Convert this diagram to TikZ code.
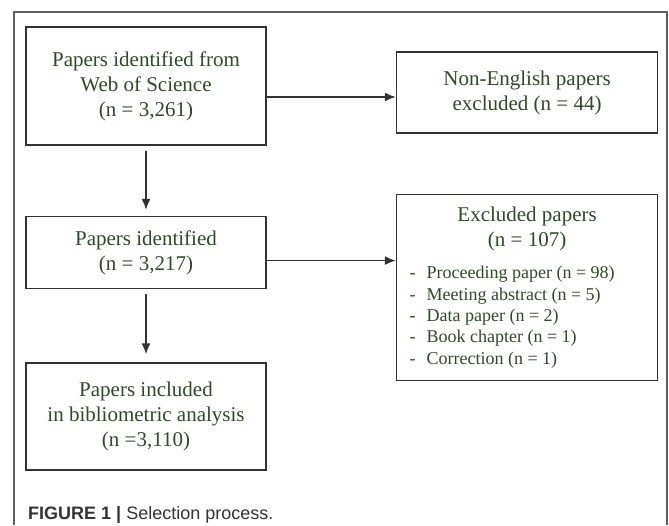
\documentclass[tikz,border=0pt]{standalone}
\usepackage{fontspec}
\setmainfont{Liberation Serif}
\setsansfont{Liberation Sans}
\usetikzlibrary{arrows.meta,positioning}

\definecolor{boxtext}{RGB}{46,74,38}
\definecolor{boxline}{RGB}{50,50,50}
\definecolor{frameline}{RGB}{95,95,95}

\newcommand{\exitem}{\makebox[17pt][l]{-}}

\begin{document}
\begin{tikzpicture}[
    x=1pt, y=1pt,
    node distance=70pt and 129pt,
    >={Latex[length=11pt,width=9pt]},
    box/.style={
        draw=boxline,
        line width=1.6pt,
        rectangle,
        align=center,
        text=boxtext,
        font=\fontsize{21}{25}\selectfont,
        minimum width=240pt,
        inner sep=0pt
    },
    sidebox/.style={
        box,
        minimum width=261pt
    },
    link/.style={
        ->,
        draw=boxline,
        line width=1.5pt
    }
]

\useasboundingbox (0,0) rectangle (669,-525);
\draw[frameline, line width=1.2pt] (14,-525) -- (14,-12) -- (667,-12) -- (667,-525);

\node[box, minimum height=118pt] (wos) at (146,-86) {Papers identified from\\ Web of Science\\ (n = 3,261)};
\node[box, below=70pt of wos, minimum height=72pt] (identified) {Papers identified\\ (n = 3,217)};
\node[box, below=73pt of identified, minimum height=107pt] (included) {Papers included\\ in bibliometric analysis\\ (n =3,110)};

\node[sidebox, below right=25pt and 129pt of wos.north east, minimum height=81pt] (nonenglish) {Non-English papers\\ excluded (n = 44)};
\node[sidebox, below right=60pt and 0pt of nonenglish.south west, minimum height=186pt, text width=235pt, align=flush left] (excluded) {%
    {\centering Excluded papers\\ (n = 107)\par}
    \vspace{10.7pt}
    {\fontsize{18}{21.3}\selectfont\raggedright
    \exitem Proceeding paper (n = 98)\\
    \exitem Meeting abstract (n = 5)\\
    \exitem Data paper (n = 2)\\
    \exitem Book chapter (n = 1)\\
    \exitem Correction (n = 1)\par}};

\draw[link] ([yshift=-11pt]wos.east) -- ([yshift=-11pt]wos.east -| nonenglish.west);
\draw[link] ([yshift=-8pt]identified.east) -- ([yshift=-8pt]identified.east -| excluded.west);
\draw[link] ([yshift=-5pt]wos.south) -- ([yshift=6pt]identified.north);
\draw[link] ([yshift=-5pt]identified.south) -- ([yshift=8pt]included.north);

\node[anchor=base west, inner sep=0pt, text=black!80, font=\sffamily\fontsize{18}{21}\selectfont] (caption) at (28,-519) {\textbf{FIGURE 1 |} Selection process.};

\end{tikzpicture}
\end{document}
